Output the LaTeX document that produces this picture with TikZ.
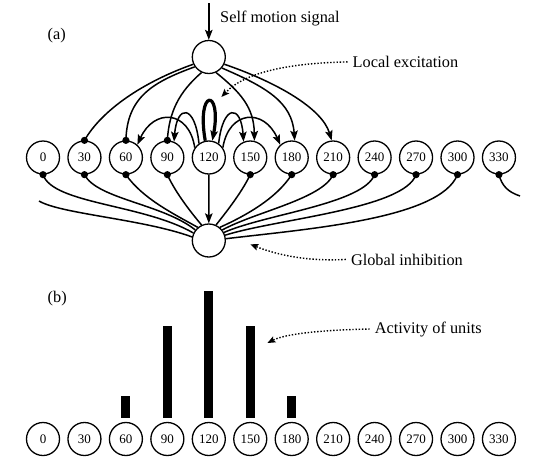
\documentclass[tikz,border=0pt]{standalone}
\usepackage{fontspec}
\setmainfont{Liberation Serif}
\usetikzlibrary{arrows.meta}
\tikzset{
  unit/.style={circle, draw, line width=1.3pt, minimum size=33pt, inner sep=0pt, font=\fontsize{13}{13}\selectfont},
  bignode/.style={circle, draw, line width=1.3pt, minimum size=33pt, inner sep=0pt},
  lbl/.style={inner sep=0pt, anchor=base west, font=\fontsize{16.3}{18}\selectfont},
  wire/.style={line width=1.5pt},
  arr/.style={-{Stealth[length=10pt,width=7.5pt,inset=2pt]}},
  thickloop/.style={line width=3.2pt},
  dotarrow/.style={line width=1.4pt, dash pattern=on 1.4pt off 1.8pt, -{Stealth[length=8pt,width=6.5pt,inset=1.5pt]}},
  dotend/.style={fill=black}
}
\begin{document}
\begin{tikzpicture}[x=1pt,y=-1pt]
\useasboundingbox (0,0) rectangle (534,463);

% units
\foreach \i/\l in {0/0,1/30,2/60,3/90,4/120,5/150,6/180,7/210,8/240,9/270,10/300,11/330} {
  \node[unit] (a\i) at ({43+41.45*\i},157.5) {\l};
  \node[unit] (b\i) at ({43+41.45*\i},439) {\l};
}
\node[bignode] (sm) at (208.8,57) {};
\node[bignode] (gi) at (208.8,240.5) {};

% labels
\node[lbl] (sml) at (220,22.5) {Self motion signal};
\node[lbl] (la) at (47.5,39) {(a)};
\node[lbl] (le) at (352.5,67.5) {Local excitation};
\node[lbl] (gil) at (350.8,265) {Global inhibition};
\node[lbl] (lb) at (47.5,302) {(b)};
\node[lbl] (act) at (374.7,333) {Activity of units};

% self motion input
\coordinate (smin) at (208.8,3);
\draw[wire,arr] (smin) -- (sm.north);

% self motion node to units
\draw[wire] (sm.205) .. controls (143,82) and (102,110) .. (a1.north);
\draw[wire] (sm.215) .. controls (153,82) and (127,97) .. (a2.north);
\draw[wire] (sm.245) .. controls (179,92) and (169,112) .. (a3.north);
\draw[wire,arr] (sm.295) .. controls (240,92) and (254,107) .. (a5.76);
\draw[wire,arr] (sm.320) .. controls (266,87) and (292,102) .. (a6.80);
\draw[wire,arr] (sm.335) .. controls (276,82) and (322,108) .. (a7.95);
\foreach \n in {a1,a2,a3} \fill[dotend] (\n.north) circle (3.6pt);

% local excitation from 120
\draw[thickloop,arr] (a4.102) .. controls (196,88) and (222,88) .. (a4.78);
\draw[wire,arr] (a4.125) .. controls (195,104) and (177,104) .. (a3.67);
\draw[wire,arr] (a4.55) .. controls (223,104) and (241,104) .. (a5.113);
\draw[wire,arr] (a4.145) .. controls (189,110) and (154,108) .. (a2.48);
\draw[wire,arr] (a4.35) .. controls (229,110) and (264,108) .. (a6.132);

% global inhibition
\coordinate (wrapin) at (39,201);
\coordinate (wrapout) at (520,196);
\draw[wire] (a0.south) .. controls (53,204) and (143,204) .. (gi.154);
\draw[wire] (wrapin) .. controls (61,214) and (143,219) .. (gi.168);
\draw[wire] (a1.south) .. controls (97,199) and (163,204) .. (gi.142);
\draw[wire] (a2.south) .. controls (143,199) and (174,214) .. (gi.130);
\draw[wire] (a3.south) .. controls (176,194) and (194,216) .. (gi.115);
\draw[wire,arr] (a4.south) -- (gi.north);
\draw[wire] (a5.south) .. controls (241,194) and (223,216) .. (gi.65);
\draw[wire] (a6.south) .. controls (276,199) and (245,216) .. (gi.50);
\draw[wire] (a7.south) .. controls (322,199) and (255,212) .. (gi.38);
\draw[wire] (a8.south) .. controls (363,204) and (266,214) .. (gi.28);
\draw[wire] (a9.south) .. controls (404,209) and (276,219) .. (gi.18);
\draw[wire] (a10.south) .. controls (440,219) and (307,229) .. (gi.6);
\draw[wire] (a11.south) .. controls (502,186) and (508,192) .. (wrapout);
\foreach \i in {0,1,2,3,5,6,7,8,9,10,11} \fill[dotend] (a\i.south) circle (3.6pt);

% dotted annotation arrows
\coordinate (lex) at (221.4,97);
\coordinate (gix) at (250.3,244.3);
\coordinate (actx) at (267.4,343);
\draw[dotarrow] ([xshift=-5pt]le.west) .. controls (290,63) and (245,72) .. (lex);
\draw[dotarrow] ([xshift=-5pt]gil.west) .. controls (300,262) and (270,252) .. (gix);
\draw[dotarrow] ([xshift=-5pt]act.west) .. controls (320,330) and (285,334) .. (actx);

% activity bars
\foreach \i/\h in {2/22.5,3/92.3,4/127,5/92.3,6/22.5}
  \fill ([xshift=-4.5pt,yshift=3.4pt]b\i.north) rectangle ++(9,-\h);
\end{tikzpicture}
\end{document}
